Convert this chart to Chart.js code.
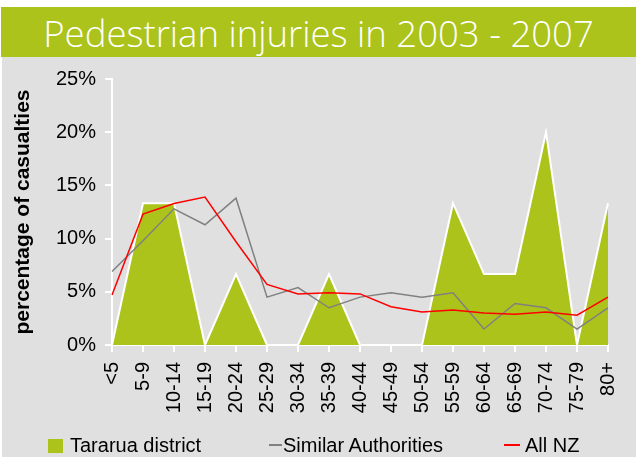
<!DOCTYPE html>
<html>
<head>
<meta charset="utf-8">
<script src="https://cdn.jsdelivr.net/npm/chart.js@4"></script>
<style>
  html, body { margin: 0; padding: 0; background: #fff; }
  #page { position: relative; width: 636px; height: 457px; overflow: hidden; background: #fff; }
  #band {
    position: absolute; left: 1px; top: 7px; width: 635px; height: 50px;
    background: #abc31a; color: #fff;
    font-family: "Open Sans", "Liberation Sans", sans-serif; font-weight: 300;
    font-size: 36.5px; line-height: 52px; text-align: center; white-space: nowrap;
  }
  #panel { position: absolute; left: 2px; top: 57px; width: 634px; height: 400px; background: #e0e0e0; }
  #chart { position: absolute; left: 0; top: 0; }
  .lg { position: absolute; font-family: "Liberation Sans", Arial, sans-serif; font-size: 20px; line-height: 20px; color: #000; white-space: nowrap; }
  .sw { position: absolute; }
</style>
</head>
<body>
<div id="page">
  <div id="band">Pedestrian injuries in 2003 - 2007</div>
  <div id="panel">
    <canvas id="chart" width="634" height="400"></canvas>
    <div class="sw" style="left:46px; top:382px; width:15px; height:14px; background:#abc31a;"></div>
    <div class="lg" style="left:68px; top:378px;">Tararua district</div>
    <div class="sw" style="left:267px; top:387px; width:13px; height:1.5px; background:#808080;"></div>
    <div class="lg" style="left:281px; top:378px;">Similar Authorities</div>
    <div class="sw" style="left:502px; top:387px; width:16px; height:2px; background:#ff0000;"></div>
    <div class="lg" style="left:523px; top:378px;">All NZ</div>
  </div>
</div>
<script>
// Age groups
const ageGroups = ['<5', '5-9', '10-14', '15-19', '20-24', '25-29', '30-34', '35-39', '40-44',
    '45-49', '50-54', '55-59', '60-64', '65-69', '70-74', '75-79', '80+'];

// Percentage of casualties
const tararua = [0, 13.33, 13.33, 0, 6.67, 0, 0, 6.67, 0, 0, 0, 13.33, 6.67, 6.67, 20, 0, 13.33];
const similarAuthorities = [6.9, 9.8, 12.8, 11.3, 13.8, 4.5, 5.4, 3.5, 4.5, 4.9, 4.5, 4.9, 1.5, 3.9, 3.5, 1.5, 3.5];
const allNZ = [4.7, 12.3, 13.3, 13.9, 9.7, 5.7, 4.8, 4.9, 4.8, 3.6, 3.1, 3.3, 3.0, 2.9, 3.1, 2.8, 4.5];

const yTicks = [0, 5, 10, 15, 20, 25];

const green = '#abc31a';
const font = 'Liberation Sans';

function initInjuryChart() {
    const ctx = document.getElementById('chart');

    new Chart(ctx, {
        type: 'line',
        data: {
            labels: ageGroups,
            datasets: [
                {
                    label: 'Tararua district',
                    data: tararua,
                    fill: 'origin',
                    backgroundColor: green,
                    borderColor: '#ffffff',
                    borderWidth: 2,
                    pointRadius: 0,
                    tension: 0,
                    order: 3
                },
                {
                    label: 'Similar Authorities',
                    data: similarAuthorities,
                    borderColor: '#808080',
                    borderWidth: 1.5,
                    pointRadius: 0,
                    tension: 0,
                    order: 2
                },
                {
                    label: 'All NZ',
                    data: allNZ,
                    borderColor: '#ff0000',
                    borderWidth: 1.5,
                    pointRadius: 0,
                    tension: 0,
                    order: 1
                }
            ]
        },
        options: {
            responsive: false,
            animation: false,
            layout: {
                padding: { top: 22, right: 28, left: 0, bottom: 0 }
            },
            plugins: {
                legend: { display: false },
                tooltip: { enabled: false }
            },
            scales: {
                x: {
                    offset: false,
                    afterFit: (scale) => {
                        scale.height = 112;
                        scale.paddingLeft = 0;
                        scale.paddingRight = 0;
                    },
                    grid: {
                        drawOnChartArea: false,
                        color: '#ffffff',
                        lineWidth: 2,
                        tickLength: 7
                    },
                    border: { color: '#ffffff', width: 2 },
                    ticks: {
                        autoSkip: false,
                        minRotation: 90,
                        maxRotation: 90,
                        padding: 10,
                        color: '#000',
                        font: { family: font, size: 20 }
                    }
                },
                y: {
                    min: 0,
                    max: 25,
                    afterFit: (scale) => { scale.width = 110; },
                    afterBuildTicks: (scale) => {
                        scale.ticks = yTicks.map(v => ({ value: v }));
                    },
                    grid: {
                        drawOnChartArea: false,
                        color: '#ffffff',
                        lineWidth: 2,
                        tickLength: 7
                    },
                    border: { color: '#ffffff', width: 2 },
                    ticks: {
                        padding: 9,
                        color: '#000',
                        font: { family: font, size: 20 },
                        callback: (v) => v + '%'
                    },
                    title: {
                        display: true,
                        text: 'percentage of casualties',
                        color: '#000',
                        padding: { top: 9, bottom: 0 },
                        font: { family: font, size: 21, weight: 'bold' }
                    }
                }
            }
        }
    });
}

initInjuryChart();
</script>
</body>
</html>
